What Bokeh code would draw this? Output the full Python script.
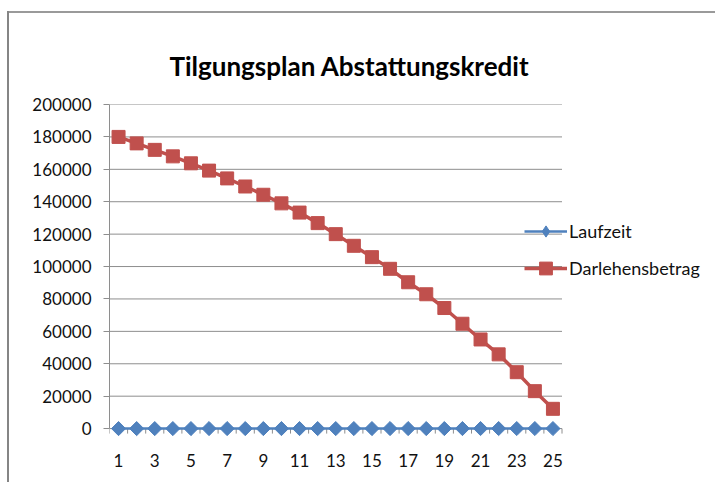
from bokeh.plotting import figure
from bokeh.models import (FixedTicker, BasicTickFormatter, Legend, LegendItem, Range1d)
from bokeh.embed import file_html
from bokeh.resources import INLINE

# Repayment schedule data
periods = list(range(1, 26))
laufzeit = list(range(1, 26))
darlehensbetrag = [180000, 176000, 172000, 168000, 163700, 159200, 154400, 149400,
                   144300, 139000, 133300, 126800, 120000, 112800, 105800, 98600,
                   90300, 82900, 74400, 64700, 55000, 45800, 34800, 23100, 12200]
y_ticks = [0, 20000, 40000, 60000, 80000, 100000, 120000, 140000, 160000, 180000, 200000]
x_labels = [1, 3, 5, 7, 9, 11, 13, 15, 17, 19, 21, 23, 25]

BLUE = "#4F81BD"
RED = "#C0504D"
GRID = "#8e8e8e"
FONT = "Lato"

# Layout: the plot area spans the categories; the frame continues to the
# right edge so the legend can sit beside the chart without being clipped.
LEFT, TOP, BOTTOM = 109, 104, 45
WIDTH, HEIGHT = 715, 482
Y_MIN = -5500
cat_px = (561.5 - LEFT) / len(periods)
x_start = periods[0] - 0.5
x_stop = periods[-1] + 0.5
x_end = x_start + (WIDTH - LEFT) / cat_px
units_per_px = (y_ticks[-1] - Y_MIN) / (HEIGHT - TOP - BOTTOM)

p = figure(width=WIDTH, height=HEIGHT, output_backend="svg", toolbar_location=None,
           x_range=Range1d(x_start, x_end), y_range=Range1d(Y_MIN, y_ticks[-1]),
           min_border_left=LEFT, min_border_right=0, min_border_top=TOP,
           min_border_bottom=BOTTOM,
           title="Tilgungsplan Abstattungskredit",
           styles={"background":
                   "linear-gradient(#858585,#858585) 7px 11px / 2px 100% no-repeat,"
                   "linear-gradient(#9a9a9a,#9a9a9a) 7px 11px / 100% 2px no-repeat"})
p.border_fill_alpha = 0
p.background_fill_alpha = 0
p.outline_line_color = None

p.title.text_font = FONT
p.title.text_font_size = "26px"
p.title.text_font_style = "bold"
p.title.text_color = "#000000"
p.title.align = "left"
p.title.offset = 60
p.title.standoff = 45

# Category axis: labels on odd periods; the zero gridline acts as axis line
p.xaxis.ticker = FixedTicker(ticks=x_labels)
p.xaxis.major_tick_line_color = None
p.xaxis.minor_tick_line_color = None
p.xaxis.axis_line_color = None
p.xaxis.major_label_standoff = 10

# Value axis
p.yaxis.ticker = FixedTicker(ticks=y_ticks)
p.yaxis.formatter = BasicTickFormatter(use_scientific=False)
p.yaxis.bounds = (y_ticks[0], y_ticks[-1])
p.yaxis.major_tick_out = 6
p.yaxis.major_tick_in = 0
p.yaxis.minor_tick_line_color = None
p.yaxis.major_tick_line_color = GRID
p.yaxis.axis_line_color = GRID
p.yaxis.major_label_standoff = 12

for ax in (p.xaxis, p.yaxis):
    ax.major_label_text_font = FONT
    ax.major_label_text_font_size = "17px"
    ax.major_label_text_color = "#111111"

# Horizontal gridlines limited to the category span
p.xgrid.grid_line_color = None
p.ygrid.grid_line_color = None
p.segment(x0=[x_start] * len(y_ticks), x1=[x_stop] * len(y_ticks),
          y0=y_ticks, y1=y_ticks, line_color=GRID, line_width=1)

# Tick marks between categories, hanging below the zero line
bounds = [x_start + i for i in range(len(periods) + 1)]
p.segment(x0=bounds, x1=bounds, y0=[0] * len(bounds),
          y1=[-5 * units_per_px] * len(bounds), line_color=GRID, line_width=1)

# Series
l1 = p.line(periods, laufzeit, line_color=BLUE, line_width=2.5)
m1 = p.scatter(periods, laufzeit, marker="square", angle=0.785398, size=10,
               fill_color=BLUE, line_color=BLUE)
# diamond key for the legend (legend keys are drawn unrotated)
k1 = p.scatter(periods, laufzeit, marker="diamond", size=12,
               fill_color=BLUE, line_color=BLUE, visible=False)
l2 = p.line(periods, darlehensbetrag, line_color=RED, line_width=3.5)
m2 = p.scatter(periods, darlehensbetrag, marker="square", size=13,
               fill_color=RED, line_color=RED)

legend_style = dict(padding=0, margin=0, glyph_width=43, label_standoff=2,
                    border_line_color=None, background_fill_alpha=0,
                    inactive_fill_alpha=0,
                    label_text_font=FONT, label_text_font_size="18px",
                    label_text_color="#111111")
legend_a = Legend(items=[LegendItem(label="Laufzeit", renderers=[l1, k1])],
                  location=(415, 192), glyph_height=28, label_height=28,
                  **legend_style)
legend_b = Legend(items=[LegendItem(label="Darlehensbetrag", renderers=[l2, m2])],
                  location=(415, 153), glyph_height=32, label_height=32,
                  **legend_style)
p.add_layout(legend_a, "center")
p.add_layout(legend_b, "center")

open("out.html", "w").write(file_html(p, INLINE))
